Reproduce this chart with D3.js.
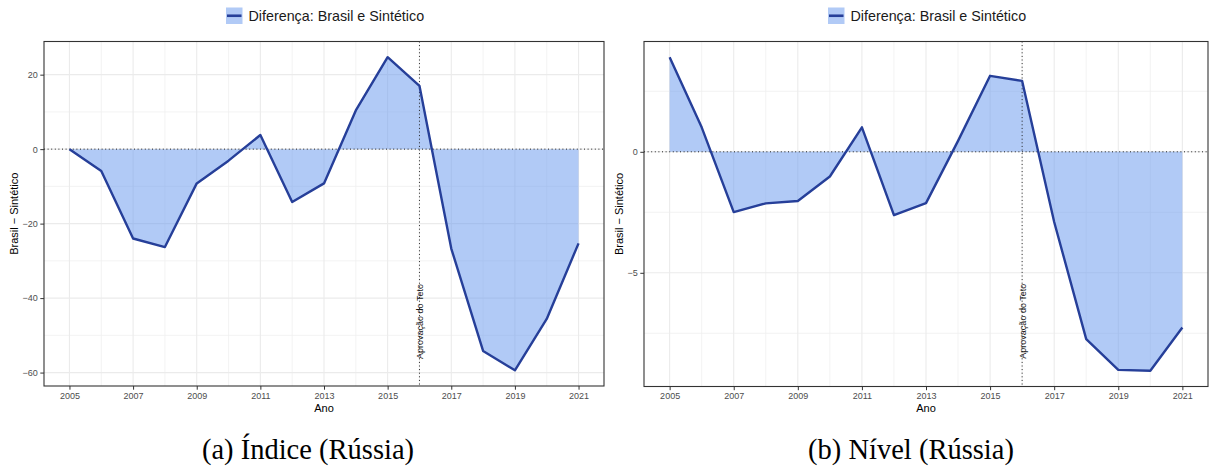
<!DOCTYPE html>
<html lang="pt">
<head>
<meta charset="utf-8">
<title>Diferença: Brasil e Sintético (Rússia)</title>
<script src="https://d3js.org/d3.v7.min.js"></script>
<style>
  body { margin: 0; background: #fff; }
  text { font-family: "Liberation Sans", Arial, Helvetica, sans-serif; }
  text.caption { font-family: "Liberation Serif", "DejaVu Serif", serif; }
</style>
</head>
<body>
<script>
// data
var years = [2005, 2006, 2007, 2008, 2009, 2010, 2011, 2012, 2013, 2014, 2015, 2016, 2017, 2018, 2019, 2020, 2021];
var indiceValues = [0, -5.9, -24.0, -26.3, -9.2, -3.1, 3.8, -14.2, -9.2, 10.4, 24.7, 17.0, -26.7, -54.2, -59.4, -45.6, -25.3];
var nivelValues = [3.91, 1.01, -2.49, -2.13, -2.03, -1.02, 1.01, -2.62, -2.12, 0.45, 3.14, 2.93, -2.9, -7.74, -9.01, -9.05, -7.26];

var yearTicks = [2005, 2007, 2009, 2011, 2013, 2015, 2017, 2019, 2021];
var yearMinor = [2006, 2008, 2010, 2012, 2014, 2016, 2018, 2020];
var indiceTicks = [-60, -40, -20, 0, 20];
var indiceMinor = [-50, -30, -10, 10];
var nivelTicks = [-5, 0];
var nivelMinor = [-7.5, -2.5, 2.5];

var tetoYear = 2016;
var legendLabel = "Diferença: Brasil e Sintético";
var tetoLabel = "Aprovação do Teto";
var xTitle = "Ano";
var yTitle = "Brasil \u2212 Sintético";

// styles
var lineColor = "#263f99";
var fillColor = "#6495ED";
var w = 1211, h = 467;

var svg = d3.select("body").append("svg").attr("width", w).attr("height", h);

function minus(v) { return String(v).replace("-", "\u2212"); }

// ggplot-like 5% expansion
function expand(lo, hi) {
  var r = hi - lo;
  return [lo - 0.05 * r, hi + 0.05 * r];
}

function drawPanel(p) {
  var g = svg.append("g");

  var x = d3.scaleLinear().domain(expand(d3.min(years), d3.max(years)))
    .range([p.left, p.right]);
  var y = d3.scaleLinear().domain(expand(d3.min(p.values), d3.max(p.values)))
    .range([p.bottom, p.top]);

  var clipId = "clip" + p.id;
  g.append("clipPath").attr("id", clipId).append("rect")
    .attr("x", p.left).attr("y", p.top)
    .attr("width", p.right - p.left).attr("height", p.bottom - p.top);

  // grid
  var grid = g.append("g").attr("clip-path", "url(#" + clipId + ")");
  grid.selectAll(".xminor").data(yearMinor).enter().append("line")
    .attr("x1", d => x(d)).attr("x2", d => x(d))
    .attr("y1", p.top).attr("y2", p.bottom)
    .attr("stroke", "#f0f0f0").attr("stroke-width", 0.8);
  grid.selectAll(".yminor").data(p.minor).enter().append("line")
    .attr("y1", d => y(d)).attr("y2", d => y(d))
    .attr("x1", p.left).attr("x2", p.right)
    .attr("stroke", "#f0f0f0").attr("stroke-width", 0.8);
  grid.selectAll(".xmajor").data(yearTicks).enter().append("line")
    .attr("x1", d => x(d)).attr("x2", d => x(d))
    .attr("y1", p.top).attr("y2", p.bottom)
    .attr("stroke", "#ebebeb").attr("stroke-width", 1.1);
  grid.selectAll(".ymajor").data(p.ticks).enter().append("line")
    .attr("y1", d => y(d)).attr("y2", d => y(d))
    .attr("x1", p.left).attr("x2", p.right)
    .attr("stroke", "#ebebeb").attr("stroke-width", 1.1);

  var pts = years.map((yr, i) => ({ year: yr, v: p.values[i] }));

  // area between line and zero
  var area = d3.area().x(d => x(d.year)).y0(y(0)).y1(d => y(d.v));
  grid.append("path").datum(pts).attr("d", area)
    .attr("fill", fillColor).attr("fill-opacity", 0.5);

  // reference lines
  grid.append("line")
    .attr("x1", p.left).attr("x2", p.right).attr("y1", y(0)).attr("y2", y(0))
    .attr("stroke", "#222").attr("stroke-width", 1).attr("stroke-dasharray", "1,2.6");
  grid.append("line")
    .attr("x1", x(tetoYear)).attr("x2", x(tetoYear)).attr("y1", p.top).attr("y2", p.bottom)
    .attr("stroke", "#222").attr("stroke-width", 1).attr("stroke-dasharray", "1,2.6");

  // line
  var line = d3.line().x(d => x(d.year)).y(d => y(d.v));
  grid.append("path").datum(pts).attr("d", line)
    .attr("fill", "none").attr("stroke", lineColor).attr("stroke-width", 2.4)
    .attr("stroke-linejoin", "round");

  // annotation
  g.append("text")
    .attr("transform", "translate(" + (x(tetoYear) + 1) + "," + y(p.labelAt) + ") rotate(-90)")
    .attr("text-anchor", "middle").attr("dominant-baseline", "central")
    .attr("font-size", 9).attr("fill", "#1a1a1a")
    .text(tetoLabel);

  // border
  g.append("rect").attr("x", p.left).attr("y", p.top)
    .attr("width", p.right - p.left).attr("height", p.bottom - p.top)
    .attr("fill", "none").attr("stroke", "#333").attr("stroke-width", 1.1);

  // axes
  var xAxis = d3.axisBottom(x).tickValues(yearTicks).tickSize(3.7).tickPadding(2.5)
    .tickFormat(d3.format("d"));
  var gx = g.append("g").attr("transform", "translate(0," + p.bottom + ")").call(xAxis);
  var yAxis = d3.axisLeft(y).tickValues(p.ticks).tickSize(3.7).tickPadding(2.5)
    .tickFormat(minus);
  var gy = g.append("g").attr("transform", "translate(" + p.left + ",0)").call(yAxis);
  [gx, gy].forEach(function(a) {
    a.select(".domain").remove();
    a.selectAll(".tick line").attr("stroke", "#333").attr("stroke-width", 1);
    a.selectAll(".tick text").attr("fill", "#4d4d4d").attr("font-size", 9);
  });

  // titles
  g.append("text").attr("x", (p.left + p.right) / 2).attr("y", 412)
    .attr("text-anchor", "middle").attr("font-size", 11).attr("fill", "#000")
    .text(xTitle);
  g.append("text")
    .attr("transform", "translate(" + p.yTitleX + "," + ((p.top + p.bottom) / 2) + ") rotate(-90)")
    .attr("text-anchor", "middle").attr("font-size", 11).attr("fill", "#000")
    .text(yTitle);

  // legend
  var lg = g.append("g").attr("transform", "translate(" + p.legendX + ",7.5)");
  lg.append("rect").attr("width", 16.5).attr("height", 16.5)
    .attr("fill", fillColor).attr("fill-opacity", 0.5);
  lg.append("line").attr("x1", 1).attr("x2", 15.5).attr("y1", 8.25).attr("y2", 8.25)
    .attr("stroke", lineColor).attr("stroke-width", 2.6);
  lg.append("text").attr("x", 22.5).attr("y", 13.5)
    .attr("font-size", 14.3).attr("fill", "#1a1a1a").text(legendLabel);

  // caption
  svg.append("text").attr("class", "caption")
    .attr("x", p.captionX).attr("y", 459)
    .attr("text-anchor", "middle")
    .attr("font-size", 28.5).attr("fill", "#000")
    .text(p.caption);
}

drawPanel({
  id: "a", values: indiceValues, ticks: indiceTicks, minor: indiceMinor,
  left: 44, right: 604, top: 41.5, bottom: 386,
  labelAt: -46.3, yTitleX: 18, legendX: 226,
  captionX: 308, caption: "(a) Índice (Rússia)"
});

drawPanel({
  id: "b", values: nivelValues, ticks: nivelTicks, minor: nivelMinor,
  left: 644, right: 1208, top: 41.5, bottom: 386.5,
  labelAt: -7.0, yTitleX: 622.5, legendX: 828,
  captionX: 911, caption: "(b) Nível (Rússia)"
});
</script>
</body>
</html>
